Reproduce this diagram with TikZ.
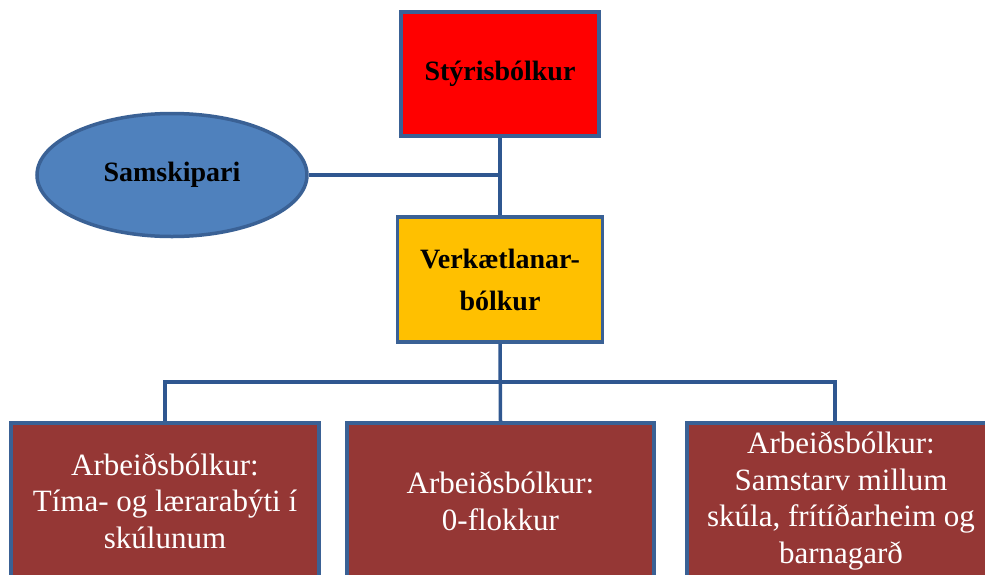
\documentclass[tikz,border=0pt]{standalone}
\usepackage{fontspec}
\setmainfont{Liberation Serif}
\usetikzlibrary{shapes.geometric}
\definecolor{edgeblue}{HTML}{3A6195}
\definecolor{linkblue}{HTML}{2F5790}
\definecolor{topred}{HTML}{FF0000}
\definecolor{midyellow}{HTML}{FFC000}
\definecolor{ellblue}{HTML}{4F81BD}
\definecolor{workbrown}{HTML}{953735}
\tikzset{
  box/.style={draw=edgeblue, line width=3.5pt, inner sep=2pt, align=center},
  topbox/.style={box, font=\fontsize{28}{42}\selectfont\bfseries, text=black},
  workbox/.style={box, fill=workbrown, minimum width=308pt, minimum height=156pt,
    text=white, font=\fontsize{31}{36.5}\selectfont},
  conn/.style={draw=linkblue, line width=3.5pt},
}
\begin{document}
\begin{tikzpicture}[x=1pt,y=-1pt]
\useasboundingbox (0,0) rectangle (985,574);
\node[topbox, fill=topred, minimum width=198pt, minimum height=124pt] (red) at (500,74) {Stýrisbólkur};
\node[topbox, fill=ellblue, ellipse, minimum width=270pt, minimum height=123pt] (ell) at (172,175) {Samskipari};
\node[topbox, fill=midyellow, minimum width=205pt, minimum height=125pt] (yellow) at (500,279.5) {Verkætlanar-\\bólkur};
\node[workbox] (left) at (165,501) {Arbeiðsbólkur:\\Tíma- og lærarabýti í\\skúlunum};
\node[workbox, minimum width=307pt] (middle) at (500.5,501) {Arbeiðsbólkur:\\0-flokkur};
\node[workbox] (right) at (841,501) {Arbeiðsbólkur:\\Samstarv millum\\skúla, frítíðarheim og\\barnagarð};
\coordinate (bus) at (500,382);
\draw[conn] (red.south) -- (yellow.north);
\draw[conn] (ell.east) -- (ell.east -| red.south);
\draw[conn] (yellow.south) -- (middle.north);
\draw[conn] (left.north) |- (bus) -| ([xshift=-6pt]right.north);
\end{tikzpicture}
\end{document}
